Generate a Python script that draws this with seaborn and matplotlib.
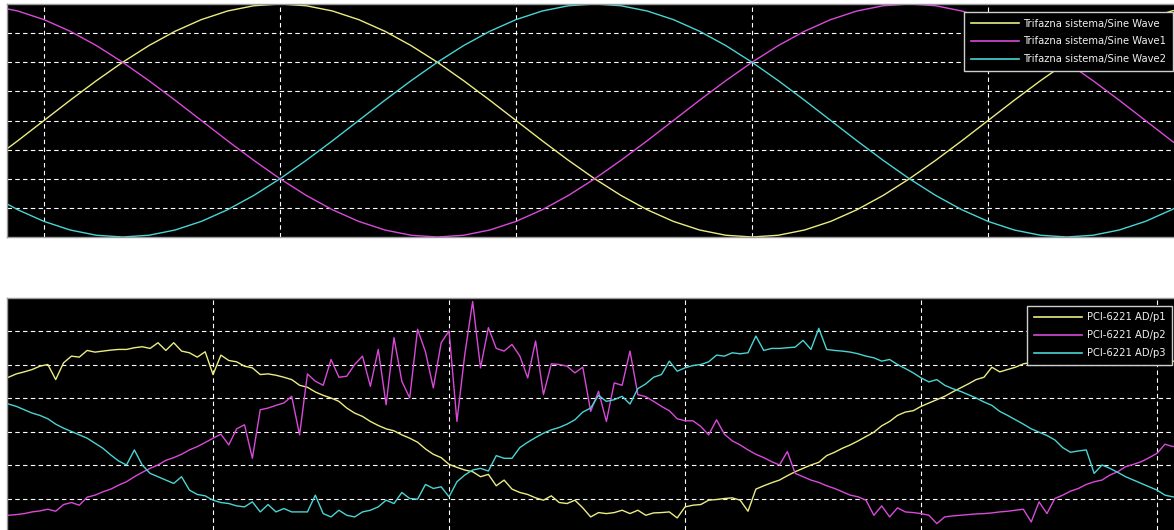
import numpy as np
import pandas as pd
import matplotlib
matplotlib.use("Agg")
import matplotlib.pyplot as plt
import seaborn as sns

# ---------------- three-phase reference (upper scope) ----------------
phase_deg = np.arange(-110, 351, 10)
sine_wave = [-0.342, -0.174, 0, 0.174, 0.342, 0.5, 0.643, 0.766, 0.866, 0.94, 0.985, 1,
             0.985, 0.94, 0.866, 0.766, 0.643, 0.5, 0.342, 0.174, 0, -0.174, -0.342, -0.5,
             -0.643, -0.766, -0.866, -0.94, -0.985, -1, -0.985, -0.94, -0.866, -0.766, -0.643,
             -0.5, -0.342, -0.174, 0, 0.174, 0.342, 0.5, 0.643, 0.766, 0.866, 0.94, 0.985]
sine_wave1 = [0.985, 0.94, 0.866, 0.766, 0.643, 0.5, 0.342, 0.174, 0, -0.174, -0.342, -0.5,
              -0.643, -0.766, -0.866, -0.94, -0.985, -1, -0.985, -0.94, -0.866, -0.766, -0.643,
              -0.5, -0.342, -0.174, 0, 0.174, 0.342, 0.5, 0.643, 0.766, 0.866, 0.94, 0.985, 1,
              0.985, 0.94, 0.866, 0.766, 0.643, 0.5, 0.342, 0.174, 0, -0.174, -0.342]
sine_wave2 = [-0.643, -0.766, -0.866, -0.94, -0.985, -1, -0.985, -0.94, -0.866, -0.766, -0.643,
              -0.5, -0.342, -0.174, 0, 0.174, 0.342, 0.5, 0.643, 0.766, 0.866, 0.94, 0.985, 1,
              0.985, 0.94, 0.866, 0.766, 0.643, 0.5, 0.342, 0.174, 0, -0.174, -0.342, -0.5,
              -0.643, -0.766, -0.866, -0.94, -0.985, -1, -0.985, -0.94, -0.866, -0.766, -0.643]
top_labels = ["Trifazna sistema/Sine Wave", "Trifazna sistema/Sine Wave1",
              "Trifazna sistema/Sine Wave2"]

# ---------------- acquired channels (lower scope) ----------------
sample_no = np.arange(3, 154)
ad_p1 = [1.52, 1.62, 1.72, 1.78, 1.85, 1.95, 2.0, 1.55, 2.05, 2.25, 2.22, 2.42, 2.37, 2.4,
         2.43, 2.45, 2.45, 2.5, 2.53, 2.48, 2.65, 2.42, 2.65, 2.4, 2.35, 2.22, 2.38, 1.7,
         2.28, 2.12, 2.08, 1.95, 1.9, 1.7, 1.72, 1.68, 1.62, 1.55,
         1.38, 1.32, 1.18, 1.08, 1.0, 0.9, 0.7, 0.55, 0.45, 0.3, 0.18, 0.08, 0.02, -0.1,
         -0.2, -0.32, -0.52, -0.68, -0.78, -0.98, -1.07, -1.15, -1.2, -1.35, -1.28, -1.62,
         -1.45, -1.72, -1.82, -1.88, -1.98, -2.05, -1.92, -2.12, -2.15, -2.05, -2.28,
         -2.55, -2.42, -2.45, -2.42, -2.35, -2.45, -2.35, -2.5, -2.43, -2.42, -2.4, -2.58,
         -2.25, -2.2, -2.18, -2.05, -2.03, -2.0, -1.98, -2.05, -2.38, -1.72, -1.62, -1.53,
         -1.45, -1.32, -1.2, -1.1, -1.0, -0.92, -0.72, -0.62, -0.5, -0.4, -0.28, -0.15, -0.02,
         0.17, 0.3, 0.48, 0.58, 0.62, 0.75, 0.85, 0.95, 1.05, 1.18, 1.3, 1.42, 1.55, 1.62,
         1.92, 1.78, 1.85, 1.92, 2.02,
         2.06, 2.1, 2.14, 2.18, 2.2, 2.22, 2.24, 2.26, 2.27, 2.28, 2.28, 2.27, 2.26, 2.24,
         2.22, 2.2, 2.15, 2.12, 2.1, 2.08]
ad_p2 = [-2.5, -2.5, -2.48, -2.45, -2.4, -2.37, -2.32, -2.38, -2.18, -2.12, -2.2, -1.96,
         -1.9, -1.8, -1.72, -1.6, -1.5, -1.35, -1.22, -1.1, -1.0, -0.86, -0.78, -0.68, -0.55,
         -0.45, -0.33, -0.2, -0.08, -0.4, 0.08, 0.2, -0.8, 0.65, 0.7, 0.78, 0.85, 1.05,
         -0.1, 1.72, 1.5, 1.38, 2.15, 1.62, 1.65, 2.0, 2.25, 1.35, 2.45, 0.8, 2.8, 1.5, 1.0,
         3.05, 2.38, 1.3, 2.65, 3.0, 0.3, 2.3, 3.88, 1.9, 3.1, 2.48, 2.4, 2.6, 2.25, 1.6,
         2.7, 1.1, 2.02, 2.0, 1.95, 1.75, 1.92,
         0.6, 1.2, 0.3, 1.45, 1.38, 2.4, 1.1, 1.04, 0.9, 0.75, 0.62, 0.38, 0.32, 0.32, 0.15,
         -0.1, 0.35, -0.08, -0.28, -0.4, -0.55, -0.68, -0.78, -0.9, -1.0, -0.6, -1.25, -1.35,
         -1.45, -1.52, -1.62, -1.7, -1.8, -1.9, -1.95, -2.05, -2.5,
         -2.22, -2.55, -2.28, -2.4, -2.42, -2.45, -2.5, -2.75, -2.55, -2.52, -2.5, -2.48,
         -2.46, -2.45, -2.43, -2.4, -2.38, -2.35, -2.32, -2.7, -2.1, -2.45, -2.0, -1.9,
         -1.78, -1.7, -1.58, -1.5, -1.45, -1.3, -1.2, -1.05, -0.98, -0.9, -0.78, -0.65,
         -0.38, -0.45, -0.4]
ad_p3 = [0.88, 0.82, 0.75, 0.65, 0.55, 0.48, 0.38, 0.22, 0.1, 0.0, -0.1, -0.2, -0.35, -0.5,
         -0.7, -0.88, -1.0, -0.55, -1.0, -1.25, -1.35, -1.45, -1.55, -1.35, -1.75, -1.88,
         -1.92, -2.05, -2.12, -2.15, -2.22, -2.25, -2.1, -2.4, -2.18, -2.4, -2.3, -2.4,
         -2.4, -2.4, -1.9, -2.45, -2.55, -2.35, -2.5, -2.55, -2.4, -2.35, -2.25, -2.05,
         -2.15, -1.82, -2.0, -2.02, -1.58, -1.7, -1.65, -1.95, -1.5, -1.3, -1.15, -1.1,
         -1.18, -0.72, -0.8, -0.8, -0.48, -0.32, -0.18, -0.05, 0.05, 0.12, 0.22, 0.35, 0.58,
         0.7, 1.08, 0.9, 0.95, 1.05, 0.82, 1.28, 1.42, 1.62, 1.7, 2.1, 1.8, 1.9, 1.97, 2.0,
         2.08, 2.28, 2.25, 2.35, 2.32, 2.35, 2.85, 2.42, 2.48, 2.48, 2.5, 2.52, 2.72, 2.45,
         3.08, 2.45, 2.42, 2.4, 2.37, 2.32, 2.25, 2.2,
         2.1, 2.15, 2.0, 1.88, 1.75, 1.6, 1.48, 1.55, 1.38, 1.28, 1.2, 1.1, 1.0, 0.88, 0.78,
         0.6, 0.48, 0.35, 0.22, 0.08, -0.02, -0.12, -0.25, -0.48, -0.62, -0.58, -0.55,
         -1.25, -1.0, -1.1, -1.22, -1.35, -1.45, -1.55, -1.65, -1.75, -1.9, -1.95, -1.97]
bottom_labels = ["PCI-6221 AD/p1", "PCI-6221 AD/p2", "PCI-6221 AD/p3"]

trace_colors = ["#ecec82", "#d84ad8", "#4ad4d4"]

W, H = 1174, 530
plt.rcParams["font.family"] = ["DejaVu Sans"]
fig = plt.figure(figsize=(W / 100, H / 100), dpi=100, facecolor="white")

ax_top = fig.add_axes([7 / W, (H - 237) / H, (W - 7) / W, 233 / H])
ax_bot = fig.add_axes([7 / W, 0, (W - 7) / W, (H - 297.5) / H])

top_df = pd.DataFrame({"phase": np.tile(phase_deg, 3),
                       "value": sine_wave + sine_wave1 + sine_wave2,
                       "signal": np.repeat(top_labels, len(phase_deg))})
bot_df = pd.DataFrame({"sample": np.tile(sample_no, 3),
                       "value": ad_p1 + ad_p2 + ad_p3,
                       "signal": np.repeat(bottom_labels, len(sample_no))})

sns.lineplot(data=top_df, x="phase", y="value", hue="signal", palette=trace_colors,
             estimator=None, sort=False, lw=1.0, ax=ax_top)
sns.lineplot(data=bot_df, x="sample", y="value", hue="signal", palette=trace_colors,
             estimator=None, sort=False, lw=1.0, ax=ax_bot)


def scope_style(ax, xlim, ylim, xgrid, ygrid):
    ax.set_facecolor("black")
    ax.set_xlim(*xlim)
    ax.set_ylim(*ylim)
    ax.set_xticks(xgrid)
    ax.set_yticks(ygrid)
    ax.tick_params(length=0, labelbottom=False, labelleft=False)
    ax.set_xlabel("")
    ax.set_ylabel("")
    ax.grid(True, color="white", lw=0.8, linestyle=(0, (4, 3)))
    ax.set_axisbelow(True)
    for sp in ax.spines.values():
        sp.set_color("#9a9a9a")
        sp.set_linewidth(1.0)
    ax.spines["right"].set_visible(False)


scope_style(ax_top, (-104.1, 340.9), (-1.0, 1.0), [-90, 0, 90, 180, 270],
            [-0.75, -0.5, -0.25, 0, 0.25, 0.5, 0.75])
scope_style(ax_bot, (3.81, 152.15), (-2.94, 4.0), [30, 60, 90, 120, 150],
            [-2, -1, 0, 1, 2, 3])
ax_bot.spines["bottom"].set_visible(False)


def scope_legend(ax, anchor_px):
    handles, labels = ax.get_legend_handles_labels()
    leg = ax.legend(handles, labels, loc="upper right",
                    bbox_to_anchor=(anchor_px[0] / W, 1 - anchor_px[1] / H),
                    bbox_transform=fig.transFigure, borderaxespad=0,
                    fontsize=7.2, frameon=True, fancybox=False, framealpha=1,
                    facecolor="black", edgecolor="#cfcfcf", labelcolor="#f0f0f0",
                    handlelength=4.8, handletextpad=0.5, labelspacing=0.78,
                    borderpad=0.65)
    leg.get_frame().set_linewidth(1.0)
    for ln in leg.get_lines():
        ln.set_linewidth(1.2)
    return leg


scope_legend(ax_top, (1173, 12))
scope_legend(ax_bot, (1172, 306))

fig.savefig("out.png", dpi=100, facecolor="white")
